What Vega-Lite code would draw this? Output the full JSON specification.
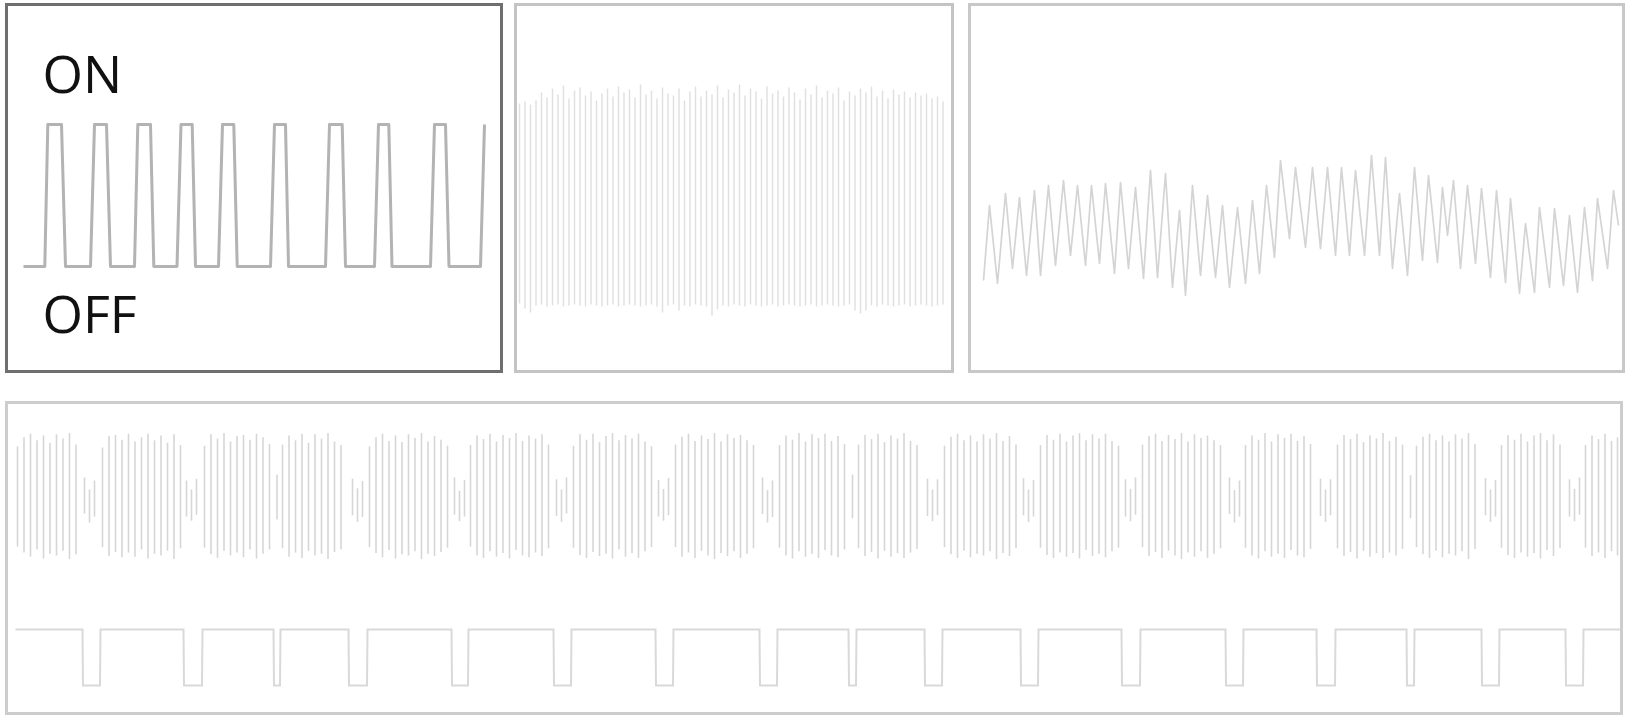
{
"$schema": "https://vega.github.io/schema/vega-lite/v6.json",
"background": "white",
"padding": {"left": 4.5, "top": 2.5, "right": 0, "bottom": 0},
"config": {"view": {"stroke": "#c6c6c6", "strokeWidth": 3}},
"datasets": {
"p1": [{"t":17,"v":0},{"t":38.3,"v":0},{"t":41.3,"v":1},{"t":55,"v":1},{"t":59,"v":0},{"t":84,"v":0},{"t":88,"v":1},{"t":100,"v":1},{"t":104,"v":0},{"t":128,"v":0},{"t":131.3,"v":1},{"t":144,"v":1},{"t":147.3,"v":0},{"t":170.5,"v":0},{"t":174.5,"v":1},{"t":185.7,"v":1},{"t":189,"v":0},{"t":212,"v":0},{"t":216,"v":1},{"t":227.3,"v":1},{"t":230.7,"v":0},{"t":264,"v":0},{"t":268,"v":1},{"t":279,"v":1},{"t":282,"v":0},{"t":319,"v":0},{"t":323,"v":1},{"t":335.7,"v":1},{"t":339,"v":0},{"t":368,"v":0},{"t":372,"v":1},{"t":382.3,"v":1},{"t":385.5,"v":0},{"t":424,"v":0},{"t":428,"v":1},{"t":439,"v":1},{"t":442.5,"v":0},{"t":474,"v":0},{"t":478,"v":1}],
"p1text": [{"label":"ON","t":36,"v":1.225},{"label":"OFF","t":36,"v":-0.47}],
"p2": [{"t":4,"hi":0.97,"lo":-1.03},{"t":9.5,"hi":0.99,"lo":-1.08},{"t":15,"hi":0.96,"lo":-1.12},{"t":20.5,"hi":1.0,"lo":-1.05},{"t":26,"hi":1.08,"lo":-1.04},{"t":31.5,"hi":1.03,"lo":-1.06},{"t":37,"hi":1.12,"lo":-1.05},{"t":42.5,"hi":1.06,"lo":-1.04},{"t":48,"hi":1.15,"lo":-1.06},{"t":53.5,"hi":1.02,"lo":-1.05},{"t":59,"hi":1.1,"lo":-1.04},{"t":64.5,"hi":1.13,"lo":-1.05},{"t":70,"hi":1.05,"lo":-1.06},{"t":75.5,"hi":1.09,"lo":-1.04},{"t":81,"hi":1.0,"lo":-1.05},{"t":86.5,"hi":1.07,"lo":-1.06},{"t":92,"hi":1.12,"lo":-1.05},{"t":97.5,"hi":1.04,"lo":-1.04},{"t":103,"hi":1.14,"lo":-1.06},{"t":108.5,"hi":1.08,"lo":-1.05},{"t":114,"hi":1.11,"lo":-1.04},{"t":119.5,"hi":1.03,"lo":-1.05},{"t":125,"hi":1.16,"lo":-1.06},{"t":130.5,"hi":1.06,"lo":-1.05},{"t":136,"hi":1.1,"lo":-1.04},{"t":141.5,"hi":1.02,"lo":-1.06},{"t":147,"hi":1.13,"lo":-1.12},{"t":152.5,"hi":1.07,"lo":-1.05},{"t":158,"hi":1.05,"lo":-1.04},{"t":163.5,"hi":1.12,"lo":-1.1},{"t":169,"hi":1.0,"lo":-1.05},{"t":174.5,"hi":1.09,"lo":-1.06},{"t":180,"hi":1.14,"lo":-1.04},{"t":185.5,"hi":1.04,"lo":-1.05},{"t":191,"hi":1.1,"lo":-1.06},{"t":196.5,"hi":1.06,"lo":-1.15},{"t":202,"hi":1.15,"lo":-1.09},{"t":207.5,"hi":1.03,"lo":-1.05},{"t":213,"hi":1.11,"lo":-1.06},{"t":218.5,"hi":1.08,"lo":-1.04},{"t":224,"hi":1.16,"lo":-1.05},{"t":229.5,"hi":1.05,"lo":-1.06},{"t":235,"hi":1.12,"lo":-1.04},{"t":240.5,"hi":1.09,"lo":-1.05},{"t":246,"hi":1.02,"lo":-1.06},{"t":251.5,"hi":1.14,"lo":-1.05},{"t":257,"hi":1.07,"lo":-1.04},{"t":262.5,"hi":1.1,"lo":-1.06},{"t":268,"hi":1.04,"lo":-1.05},{"t":273.5,"hi":1.13,"lo":-1.04},{"t":279,"hi":1.08,"lo":-1.05},{"t":284.5,"hi":1.01,"lo":-1.06},{"t":290,"hi":1.12,"lo":-1.05},{"t":295.5,"hi":1.06,"lo":-1.04},{"t":301,"hi":1.15,"lo":-1.06},{"t":306.5,"hi":1.03,"lo":-1.05},{"t":312,"hi":1.1,"lo":-1.04},{"t":317.5,"hi":1.07,"lo":-1.05},{"t":323,"hi":1.13,"lo":-1.06},{"t":328.5,"hi":1.0,"lo":-1.05},{"t":334,"hi":1.09,"lo":-1.04},{"t":339.5,"hi":1.05,"lo":-1.1},{"t":345,"hi":1.12,"lo":-1.13},{"t":350.5,"hi":1.08,"lo":-1.1},{"t":356,"hi":1.14,"lo":-1.05},{"t":361.5,"hi":1.04,"lo":-1.06},{"t":367,"hi":1.1,"lo":-1.04},{"t":372.5,"hi":1.02,"lo":-1.05},{"t":378,"hi":1.11,"lo":-1.06},{"t":383.5,"hi":1.06,"lo":-1.05},{"t":389,"hi":1.09,"lo":-1.04},{"t":394.5,"hi":1.03,"lo":-1.06},{"t":400,"hi":1.08,"lo":-1.05},{"t":405.5,"hi":1.05,"lo":-1.04},{"t":411,"hi":1.07,"lo":-1.05},{"t":416.5,"hi":1.02,"lo":-1.06},{"t":422,"hi":1.04,"lo":-1.05},{"t":427.5,"hi":0.99,"lo":-1.04}],
"p3": [{"t":11,"v":-1.0},{"t":17,"v":0.5},{"t":25,"v":-1.06},{"t":33,"v":0.74},{"t":40,"v":-0.76},{"t":47,"v":0.66},{"t":54,"v":-0.9},{"t":62,"v":0.8},{"t":68,"v":-0.9},{"t":76,"v":0.9},{"t":83,"v":-0.7},{"t":91,"v":1.0},{"t":98,"v":-0.5},{"t":105,"v":0.9},{"t":113,"v":-0.7},{"t":119,"v":0.9},{"t":127,"v":-0.66},{"t":133,"v":0.94},{"t":142,"v":-0.86},{"t":148,"v":0.96},{"t":156,"v":-0.76},{"t":163,"v":0.86},{"t":171,"v":-0.96},{"t":178,"v":1.2},{"t":185,"v":-0.94},{"t":193,"v":1.14},{"t":200,"v":-1.14},{"t":207,"v":0.4},{"t":213,"v":-1.3},{"t":220,"v":0.9},{"t":228,"v":-0.9},{"t":235,"v":0.7},{"t":243,"v":-0.94},{"t":250,"v":0.5},{"t":257,"v":-1.14},{"t":265,"v":0.46},{"t":273,"v":-1.06},{"t":280,"v":0.6},{"t":287,"v":-0.86},{"t":294,"v":0.9},{"t":302,"v":-0.54},{"t":308,"v":1.4},{"t":317,"v":-0.16},{"t":323,"v":1.26},{"t":333,"v":-0.34},{"t":340,"v":1.26},{"t":348,"v":-0.36},{"t":355,"v":1.26},{"t":363,"v":-0.5},{"t":369,"v":1.26},{"t":377,"v":-0.5},{"t":383,"v":1.2},{"t":392,"v":-0.5},{"t":399,"v":1.5},{"t":407,"v":-0.5},{"t":413,"v":1.46},{"t":420,"v":-0.76},{"t":427,"v":0.74},{"t":435,"v":-0.9},{"t":442,"v":1.26},{"t":450,"v":-0.6},{"t":456,"v":1.1},{"t":465,"v":-0.64},{"t":470,"v":0.86},{"t":475,"v":-0.1},{"t":481,"v":1.0},{"t":488,"v":-0.76},{"t":495,"v":0.9},{"t":503,"v":-0.66},{"t":509,"v":0.84},{"t":518,"v":-0.94},{"t":524,"v":0.8},{"t":533,"v":-1.04},{"t":538,"v":0.64},{"t":547,"v":-1.26},{"t":553,"v":0.14},{"t":562,"v":-1.24},{"t":567,"v":0.46},{"t":577,"v":-1.14},{"t":582,"v":0.44},{"t":591,"v":-1.1},{"t":597,"v":0.3},{"t":605,"v":-1.24},{"t":612,"v":0.46},{"t":620,"v":-1.0},{"t":625,"v":0.64},{"t":635,"v":-0.76},{"t":641,"v":0.8},{"t":646,"v":0.1}],
"p4b": [{"t":9,"hi":0.82,"lo":-0.85},{"t":15.5,"hi":0.97,"lo":-0.95},{"t":22,"hi":1.03,"lo":-1.02},{"t":28.5,"hi":0.92,"lo":-0.9},{"t":35,"hi":1.0,"lo":-1.05},{"t":41.5,"hi":0.88,"lo":-0.97},{"t":48,"hi":1.02,"lo":-1.0},{"t":54.5,"hi":0.95,"lo":-0.92},{"t":61,"hi":1.04,"lo":-1.06},{"t":67.5,"hi":0.85,"lo":-0.98},
{"t":76,"hi":0.3,"lo":-0.3},{"t":81,"hi":0.1,"lo":-0.45},{"t":86,"hi":0.25,"lo":-0.35},
{"t":94,"hi":0.8,"lo":-0.86},{"t":100.5,"hi":0.99,"lo":-1.01},{"t":107,"hi":1.01,"lo":-0.94},{"t":113.5,"hi":0.93,"lo":-1.03},{"t":120,"hi":1.03,"lo":-0.95},{"t":126.5,"hi":0.9,"lo":-1.02},{"t":133,"hi":0.97,"lo":-0.9},{"t":139.5,"hi":1.03,"lo":-1.05},{"t":146,"hi":0.92,"lo":-0.97},{"t":152.5,"hi":1.0,"lo":-1.0},{"t":159,"hi":0.88,"lo":-0.92},{"t":165.5,"hi":1.02,"lo":-1.06},{"t":172,"hi":0.84,"lo":-0.88},
{"t":178,"hi":0.25,"lo":-0.35},{"t":183,"hi":0.1,"lo":-0.42},{"t":188,"hi":0.28,"lo":-0.32},
{"t":196,"hi":0.83,"lo":-0.87},{"t":202.5,"hi":1.02,"lo":-0.98},{"t":209,"hi":0.95,"lo":-1.04},{"t":215.5,"hi":1.04,"lo":-0.92},{"t":222,"hi":0.9,"lo":-1.0},{"t":228.5,"hi":0.99,"lo":-0.95},{"t":235,"hi":1.01,"lo":-1.03},{"t":241.5,"hi":0.93,"lo":-0.9},{"t":248,"hi":1.03,"lo":-1.05},{"t":254.5,"hi":0.97,"lo":-0.97},{"t":261,"hi":0.86,"lo":-0.9},
{"t":268.5,"hi":0.35,"lo":-0.4},
{"t":274,"hi":0.85,"lo":-0.88},{"t":280.5,"hi":1.0,"lo":-1.02},{"t":287,"hi":0.92,"lo":-0.95},{"t":293.5,"hi":1.03,"lo":-1.04},{"t":300,"hi":0.88,"lo":-0.92},{"t":306.5,"hi":1.02,"lo":-1.0},{"t":313,"hi":0.95,"lo":-0.97},{"t":319.5,"hi":1.04,"lo":-1.06},{"t":326,"hi":0.9,"lo":-0.94},{"t":332.5,"hi":0.84,"lo":-0.9},
{"t":344,"hi":0.28,"lo":-0.33},{"t":349,"hi":0.12,"lo":-0.44},{"t":354,"hi":0.24,"lo":-0.36},
{"t":361,"hi":0.82,"lo":-0.86},{"t":367.5,"hi":0.97,"lo":-0.96},{"t":374,"hi":1.03,"lo":-1.03},{"t":380.5,"hi":0.91,"lo":-0.91},{"t":387,"hi":1.0,"lo":-1.05},{"t":393.5,"hi":0.89,"lo":-0.98},{"t":400,"hi":1.02,"lo":-1.0},{"t":406.5,"hi":0.96,"lo":-0.93},{"t":413,"hi":1.04,"lo":-1.06},{"t":419.5,"hi":0.9,"lo":-0.97},{"t":426,"hi":0.99,"lo":-1.01},{"t":432.5,"hi":0.93,"lo":-0.94},{"t":439,"hi":0.83,"lo":-0.87},
{"t":446,"hi":0.3,"lo":-0.32},{"t":451,"hi":0.08,"lo":-0.43},{"t":456,"hi":0.26,"lo":-0.35},
{"t":462,"hi":0.84,"lo":-0.85},{"t":468.5,"hi":1.0,"lo":-1.0},{"t":475,"hi":0.94,"lo":-1.04},{"t":481.5,"hi":1.03,"lo":-0.93},{"t":488,"hi":0.9,"lo":-1.02},{"t":494.5,"hi":1.01,"lo":-0.96},{"t":501,"hi":0.96,"lo":-1.05},{"t":507.5,"hi":1.04,"lo":-0.91},{"t":514,"hi":0.91,"lo":-1.0},{"t":520.5,"hi":1.0,"lo":-1.03},{"t":527,"hi":0.95,"lo":-0.95},{"t":533.5,"hi":1.02,"lo":-1.01},{"t":540,"hi":0.85,"lo":-0.88},
{"t":548,"hi":0.27,"lo":-0.34},{"t":553,"hi":0.1,"lo":-0.44},{"t":558,"hi":0.3,"lo":-0.3},
{"t":565,"hi":0.83,"lo":-0.87},{"t":571.5,"hi":1.02,"lo":-0.99},{"t":578,"hi":0.93,"lo":-1.04},{"t":584.5,"hi":1.03,"lo":-0.94},{"t":591,"hi":0.89,"lo":-1.01},{"t":597.5,"hi":0.99,"lo":-0.97},{"t":604,"hi":1.04,"lo":-1.05},{"t":610.5,"hi":0.92,"lo":-0.9},{"t":617,"hi":1.01,"lo":-1.02},{"t":623.5,"hi":0.95,"lo":-0.96},{"t":630,"hi":1.03,"lo":-1.04},{"t":636.5,"hi":0.9,"lo":-0.93},{"t":643,"hi":0.82,"lo":-0.86},
{"t":650,"hi":0.26,"lo":-0.35},{"t":655,"hi":0.11,"lo":-0.42},{"t":660,"hi":0.29,"lo":-0.33},
{"t":667,"hi":0.85,"lo":-0.86},{"t":673.5,"hi":0.98,"lo":-1.02},{"t":680,"hi":1.03,"lo":-0.95},{"t":686.5,"hi":0.91,"lo":-1.04},{"t":693,"hi":1.0,"lo":-0.92},{"t":699.5,"hi":0.94,"lo":-1.0},{"t":706,"hi":1.04,"lo":-1.06},{"t":712.5,"hi":0.9,"lo":-0.96},{"t":719,"hi":1.02,"lo":-1.01},{"t":725.5,"hi":0.96,"lo":-0.93},{"t":732,"hi":1.01,"lo":-1.04},{"t":738.5,"hi":0.92,"lo":-0.97},{"t":745,"hi":0.84,"lo":-0.88},
{"t":754,"hi":0.3,"lo":-0.31},{"t":759,"hi":0.09,"lo":-0.45},{"t":764,"hi":0.25,"lo":-0.36},
{"t":771,"hi":0.84,"lo":-0.87},{"t":777.5,"hi":1.0,"lo":-1.0},{"t":784,"hi":0.93,"lo":-1.05},{"t":790.5,"hi":1.04,"lo":-0.93},{"t":797,"hi":0.9,"lo":-1.02},{"t":803.5,"hi":1.02,"lo":-0.97},{"t":810,"hi":0.96,"lo":-1.04},{"t":816.5,"hi":1.03,"lo":-0.91},{"t":823,"hi":0.91,"lo":-1.0},{"t":829.5,"hi":0.99,"lo":-1.03},{"t":836,"hi":0.86,"lo":-0.9},
{"t":844,"hi":0.35,"lo":-0.38},
{"t":850,"hi":0.85,"lo":-0.88},{"t":856.5,"hi":1.01,"lo":-1.01},{"t":863,"hi":0.94,"lo":-0.94},{"t":869.5,"hi":1.03,"lo":-1.05},{"t":876,"hi":0.89,"lo":-0.92},{"t":882.5,"hi":1.0,"lo":-1.02},{"t":889,"hi":0.95,"lo":-0.96},{"t":895.5,"hi":1.04,"lo":-1.04},{"t":902,"hi":0.91,"lo":-0.95},{"t":908.5,"hi":0.84,"lo":-0.89},
{"t":919,"hi":0.28,"lo":-0.34},{"t":924,"hi":0.1,"lo":-0.43},{"t":929,"hi":0.27,"lo":-0.33},
{"t":936,"hi":0.83,"lo":-0.86},{"t":942.5,"hi":0.98,"lo":-0.98},{"t":949,"hi":1.03,"lo":-1.04},{"t":955.5,"hi":0.92,"lo":-0.92},{"t":962,"hi":1.0,"lo":-1.03},{"t":968.5,"hi":0.9,"lo":-0.97},{"t":975,"hi":1.02,"lo":-1.0},{"t":981.5,"hi":0.95,"lo":-0.93},{"t":988,"hi":1.04,"lo":-1.06},{"t":994.5,"hi":0.91,"lo":-0.96},{"t":1001,"hi":0.99,"lo":-1.01},{"t":1007.5,"hi":0.85,"lo":-0.88},
{"t":1015,"hi":0.29,"lo":-0.33},{"t":1020,"hi":0.1,"lo":-0.44},{"t":1025,"hi":0.26,"lo":-0.35},
{"t":1032,"hi":0.84,"lo":-0.87},{"t":1038.5,"hi":1.01,"lo":-0.99},{"t":1045,"hi":0.93,"lo":-1.04},{"t":1051.5,"hi":1.03,"lo":-0.95},{"t":1058,"hi":0.9,"lo":-1.02},{"t":1064.5,"hi":1.0,"lo":-0.96},{"t":1071,"hi":1.04,"lo":-1.05},{"t":1077.5,"hi":0.92,"lo":-0.91},{"t":1084,"hi":1.02,"lo":-1.01},{"t":1090.5,"hi":0.95,"lo":-0.97},{"t":1097,"hi":1.03,"lo":-1.03},{"t":1103.5,"hi":0.91,"lo":-0.93},{"t":1110,"hi":0.83,"lo":-0.87},
{"t":1117,"hi":0.27,"lo":-0.35},{"t":1122,"hi":0.11,"lo":-0.43},{"t":1127,"hi":0.3,"lo":-0.32},
{"t":1134,"hi":0.85,"lo":-0.86},{"t":1140.5,"hi":0.99,"lo":-1.01},{"t":1147,"hi":1.03,"lo":-0.94},{"t":1153.5,"hi":0.91,"lo":-1.04},{"t":1160,"hi":1.01,"lo":-0.92},{"t":1166.5,"hi":0.94,"lo":-1.0},{"t":1173,"hi":1.04,"lo":-1.06},{"t":1179.5,"hi":0.9,"lo":-0.95},{"t":1186,"hi":1.02,"lo":-1.02},{"t":1192.5,"hi":0.96,"lo":-0.93},{"t":1199,"hi":1.0,"lo":-1.04},{"t":1205.5,"hi":0.92,"lo":-0.97},{"t":1212,"hi":0.84,"lo":-0.88},
{"t":1221,"hi":0.3,"lo":-0.31},{"t":1226,"hi":0.09,"lo":-0.45},{"t":1231,"hi":0.25,"lo":-0.35},
{"t":1237,"hi":0.84,"lo":-0.87},{"t":1243.5,"hi":1.0,"lo":-1.0},{"t":1250,"hi":0.93,"lo":-1.05},{"t":1256.5,"hi":1.04,"lo":-0.93},{"t":1263,"hi":0.9,"lo":-1.02},{"t":1269.5,"hi":1.02,"lo":-0.97},{"t":1276,"hi":0.96,"lo":-1.04},{"t":1282.5,"hi":1.03,"lo":-0.91},{"t":1289,"hi":0.91,"lo":-1.0},{"t":1295.5,"hi":0.99,"lo":-1.03},{"t":1302,"hi":0.86,"lo":-0.89},
{"t":1312,"hi":0.28,"lo":-0.34},{"t":1317,"hi":0.1,"lo":-0.44},{"t":1322,"hi":0.27,"lo":-0.33},
{"t":1329,"hi":0.85,"lo":-0.88},{"t":1335.5,"hi":1.01,"lo":-1.01},{"t":1342,"hi":0.94,"lo":-0.94},{"t":1348.5,"hi":1.03,"lo":-1.05},{"t":1355,"hi":0.89,"lo":-0.92},{"t":1361.5,"hi":1.0,"lo":-1.02},{"t":1368,"hi":0.95,"lo":-0.96},{"t":1374.5,"hi":1.04,"lo":-1.04},{"t":1381,"hi":0.91,"lo":-0.95},{"t":1387.5,"hi":0.98,"lo":-1.0},{"t":1394,"hi":0.85,"lo":-0.89},
{"t":1402,"hi":0.34,"lo":-0.38},
{"t":1408,"hi":0.83,"lo":-0.86},{"t":1414.5,"hi":0.98,"lo":-0.98},{"t":1421,"hi":1.03,"lo":-1.04},{"t":1427.5,"hi":0.92,"lo":-0.92},{"t":1434,"hi":1.0,"lo":-1.03},{"t":1440.5,"hi":0.9,"lo":-0.97},{"t":1447,"hi":1.02,"lo":-1.0},{"t":1453.5,"hi":0.95,"lo":-0.93},{"t":1460,"hi":1.04,"lo":-1.06},{"t":1466.5,"hi":0.86,"lo":-0.89},
{"t":1477,"hi":0.29,"lo":-0.33},{"t":1482,"hi":0.1,"lo":-0.44},{"t":1487,"hi":0.26,"lo":-0.35},
{"t":1493,"hi":0.84,"lo":-0.87},{"t":1499.5,"hi":1.01,"lo":-0.99},{"t":1506,"hi":0.93,"lo":-1.04},{"t":1512.5,"hi":1.03,"lo":-0.95},{"t":1519,"hi":0.9,"lo":-1.02},{"t":1525.5,"hi":1.0,"lo":-0.96},{"t":1532,"hi":1.04,"lo":-1.05},{"t":1538.5,"hi":0.92,"lo":-0.91},{"t":1545,"hi":1.02,"lo":-1.01},{"t":1551.5,"hi":0.85,"lo":-0.88},
{"t":1561,"hi":0.27,"lo":-0.35},{"t":1566,"hi":0.11,"lo":-0.43},{"t":1571,"hi":0.3,"lo":-0.32},
{"t":1577,"hi":0.84,"lo":-0.87},{"t":1583.5,"hi":1.0,"lo":-1.01},{"t":1590,"hi":0.94,"lo":-0.95},{"t":1596.5,"hi":1.03,"lo":-1.04},{"t":1603,"hi":0.91,"lo":-0.93},{"t":1609,"hi":0.97,"lo":-1.0}],
"p4s": [{"t":7,"d":1},{"t":74,"d":1},{"t":74.5,"d":0},{"t":91.5,"d":0},{"t":92,"d":1},{"t":175,"d":1},{"t":175.5,"d":0},{"t":193.5,"d":0},{"t":194,"d":1},{"t":265,"d":1},{"t":265.5,"d":0},{"t":271.5,"d":0},{"t":272,"d":1},{"t":340,"d":1},{"t":340.5,"d":0},{"t":358.5,"d":0},{"t":359,"d":1},{"t":443,"d":1},{"t":443.5,"d":0},{"t":459.5,"d":0},{"t":460,"d":1},{"t":545,"d":1},{"t":545.5,"d":0},{"t":562.5,"d":0},{"t":563,"d":1},{"t":647,"d":1},{"t":647.5,"d":0},{"t":664.5,"d":0},{"t":665,"d":1},{"t":751,"d":1},{"t":751.5,"d":0},{"t":768.5,"d":0},{"t":769,"d":1},{"t":840,"d":1},{"t":840.5,"d":0},{"t":847.5,"d":0},{"t":848,"d":1},{"t":916,"d":1},{"t":916.5,"d":0},{"t":933.5,"d":0},{"t":934,"d":1},{"t":1012,"d":1},{"t":1012.5,"d":0},{"t":1029.5,"d":0},{"t":1030,"d":1},{"t":1113,"d":1},{"t":1113.5,"d":0},{"t":1131.5,"d":0},{"t":1132,"d":1},{"t":1217,"d":1},{"t":1217.5,"d":0},{"t":1234.5,"d":0},{"t":1235,"d":1},{"t":1308,"d":1},{"t":1308.5,"d":0},{"t":1326.5,"d":0},{"t":1327,"d":1},{"t":1398,"d":1},{"t":1398.5,"d":0},{"t":1405.5,"d":0},{"t":1406,"d":1},{"t":1473,"d":1},{"t":1473.5,"d":0},{"t":1490.5,"d":0},{"t":1491,"d":1},{"t":1557,"d":1},{"t":1557.5,"d":0},{"t":1574.5,"d":0},{"t":1575,"d":1},{"t":1612,"d":1}]
},
"vconcat": [
 {"hconcat": [
  {"width": 495, "height": 367,
   "view": {"stroke": "#6f6f6f", "strokeWidth": 3},
   "layer": [
    {"data": {"name": "p1"},
     "mark": {"type": "line", "color": "#b3b3b3", "strokeWidth": 3, "strokeJoin": "round"},
     "encoding": {
      "x": {"field": "t", "type": "quantitative", "scale": {"domain": [0, 495], "nice": false, "zero": false}, "axis": null},
      "y": {"field": "v", "type": "quantitative", "scale": {"domain": [-0.739, 1.845], "nice": false, "zero": false}, "axis": null}}},
    {"data": {"name": "p1text"},
     "mark": {"type": "text", "align": "left", "baseline": "alphabetic", "font": "Open Sans", "fontSize": 52, "color": "#111111"},
     "encoding": {
      "x": {"field": "t", "type": "quantitative", "scale": {"domain": [0, 495], "nice": false, "zero": false}, "axis": null},
      "y": {"field": "v", "type": "quantitative", "scale": {"domain": [-0.739, 1.845], "nice": false, "zero": false}, "axis": null},
      "text": {"field": "label"}}}
   ]},
  {"hconcat": [
   {"width": 437, "height": 367,
    "view": {"stroke": "#c4c4c4", "strokeWidth": 3},
    "data": {"name": "p2"},
    "mark": {"type": "rule", "color": "#e0e0e0", "strokeWidth": 1.5},
    "encoding": {
     "x": {"field": "t", "type": "quantitative", "scale": {"domain": [0, 437], "nice": false, "zero": false}, "axis": null},
     "y": {"field": "hi", "type": "quantitative", "scale": {"domain": [-1.71, 1.96], "nice": false, "zero": false}, "axis": null},
     "y2": {"field": "lo"}}},
   {"width": 654, "height": 367,
    "view": {"stroke": "#c8c8c8", "strokeWidth": 3},
    "data": {"name": "p3"},
    "mark": {"type": "line", "color": "#d4d4d4", "strokeWidth": 1.7, "strokeJoin": "round"},
    "encoding": {
     "x": {"field": "t", "type": "quantitative", "scale": {"domain": [-3, 651], "nice": false, "zero": false}, "axis": null},
     "y": {"field": "v", "type": "quantitative", "scale": {"domain": [-2.82, 4.52], "nice": false, "zero": false}, "axis": null}}}
  ], "spacing": 13}
 ], "spacing": 10},
 {"width": 1615, "height": 311,
  "view": {"stroke": "#cdcdcd", "strokeWidth": 3},
  "layer": [
   {"data": {"name": "p4b"},
    "mark": {"type": "rule", "color": "#d6d6d6", "strokeWidth": 1.6},
    "encoding": {
     "x": {"field": "t", "type": "quantitative", "scale": {"domain": [-2, 1613], "nice": false, "zero": false}, "axis": null},
     "y": {"field": "hi", "type": "quantitative", "scale": {"domain": [-3.633, 1.55], "nice": false, "zero": false}, "axis": null},
     "y2": {"field": "lo"}}},
   {"data": {"name": "p4s"},
    "mark": {"type": "line", "color": "#d9d9d9", "strokeWidth": 2},
    "encoding": {
     "x": {"field": "t", "type": "quantitative", "scale": {"domain": [-2, 1613], "nice": false, "zero": false}, "axis": null},
     "y": {"field": "d", "type": "quantitative", "scale": {"domain": [-0.5, 5.054], "nice": false, "zero": false}, "axis": null}}}
  ],
  "resolve": {"scale": {"y": "independent"}}}
],
"spacing": 27
}
